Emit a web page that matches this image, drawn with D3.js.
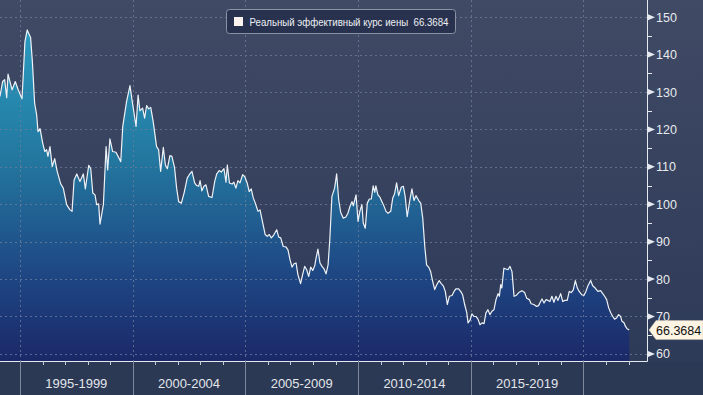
<!DOCTYPE html>
<html>
<head>
<meta charset="utf-8">
<script src="https://cdn.jsdelivr.net/npm/d3@7"></script>
<style>
  body { margin: 0; background: #2b3955; }
  svg { display: block; }
</style>
</head>
<body>
<svg id="chart" width="703" height="395"></svg>
<script>
const dates = [
  1994.11, 1994.23, 1994.32, 1994.41, 1994.47, 1994.65, 1994.79, 1994.92, 1995.09, 1995.22,
  1995.32, 1995.47, 1995.55, 1995.65, 1995.74, 1995.80, 1995.89, 1996.01, 1996.10, 1996.18,
  1996.24, 1996.33, 1996.43, 1996.54, 1996.65, 1996.81, 1996.92, 1997.07, 1997.22, 1997.31,
  1997.40, 1997.52, 1997.66, 1997.81, 1997.90, 1998.05, 1998.14, 1998.23, 1998.33, 1998.40,
  1998.49, 1998.55, 1998.70, 1998.82, 1998.89, 1998.99, 1999.11, 1999.26, 1999.47, 1999.56,
  1999.73, 1999.88, 1999.97, 2000.15, 2000.24, 2000.32, 2000.44, 2000.53, 2000.62, 2000.71,
  2000.80, 2000.91, 2001.06, 2001.15, 2001.24, 2001.36, 2001.45, 2001.54, 2001.65, 2001.74,
  2001.86, 2001.95, 2002.04, 2002.16, 2002.28, 2002.42, 2002.51, 2002.63, 2002.75, 2002.84,
  2002.93, 2002.99, 2003.07, 2003.16, 2003.25, 2003.37, 2003.52, 2003.64, 2003.73, 2003.84,
  2003.93, 2004.05, 2004.14, 2004.20, 2004.29, 2004.41, 2004.49, 2004.58, 2004.67, 2004.76,
  2004.88, 2004.97, 2005.08, 2005.17, 2005.26, 2005.35, 2005.44, 2005.56, 2005.65, 2005.77,
  2005.88, 2005.97, 2006.06, 2006.15, 2006.24, 2006.39, 2006.48, 2006.57, 2006.68, 2006.80,
  2006.89, 2006.98, 2007.07, 2007.16, 2007.25, 2007.33, 2007.45, 2007.54, 2007.63, 2007.72,
  2007.81, 2007.90, 2007.99, 2008.08, 2008.13, 2008.22, 2008.31, 2008.40, 2008.49, 2008.58,
  2008.67, 2008.75, 2008.84, 2008.96, 2009.05, 2009.14, 2009.23, 2009.34, 2009.46, 2009.55,
  2009.64, 2009.73, 2009.79, 2009.91, 2010.00, 2010.08, 2010.17, 2010.23, 2010.32, 2010.41,
  2010.50, 2010.59, 2010.67, 2010.74, 2010.79, 2010.88, 2010.97, 2011.06, 2011.15, 2011.24,
  2011.33, 2011.45, 2011.54, 2011.62, 2011.71, 2011.80, 2011.92, 2012.01, 2012.09, 2012.18,
  2012.30, 2012.39, 2012.48, 2012.57, 2012.69, 2012.78, 2012.87, 2012.96, 2013.04, 2013.13,
  2013.22, 2013.31, 2013.40, 2013.49, 2013.60, 2013.69, 2013.78, 2013.87, 2013.96, 2014.05,
  2014.17, 2014.26, 2014.34, 2014.46, 2014.55, 2014.64, 2014.73, 2014.82, 2014.88, 2014.97,
  2015.05, 2015.14, 2015.23, 2015.32, 2015.41, 2015.50, 2015.59, 2015.67, 2015.76, 2015.85,
  2015.94, 2016.03, 2016.12, 2016.21, 2016.27, 2016.33, 2016.38, 2016.47, 2016.56, 2016.65,
  2016.74, 2016.83, 2016.92, 2017.01, 2017.13, 2017.27, 2017.39, 2017.48, 2017.60, 2017.68,
  2017.80, 2017.92, 2018.01, 2018.10, 2018.16, 2018.25, 2018.34, 2018.43, 2018.51, 2018.60,
  2018.69, 2018.78, 2018.87, 2018.99, 2019.08, 2019.17, 2019.28, 2019.37, 2019.46, 2019.55,
  2019.64, 2019.73, 2019.81, 2019.93, 2020.02, 2020.11, 2020.20, 2020.32, 2020.41, 2020.52,
  2020.64, 2020.76, 2020.85, 2020.94, 2021.03, 2021.12, 2021.21, 2021.30, 2021.38, 2021.47,
  2021.56, 2021.65, 2021.71, 2021.80, 2021.86, 2021.94, 2022.03
];
const values = [
  128.8, 132.8, 133.3, 128.5, 134.8, 130.6, 132.8, 130.6, 128.2, 143.5,
  146.6, 144.6, 138.1, 127.0, 123.9, 119.4, 120.2, 116.3, 114.1, 114.6,
  112.8, 115.4, 110.1, 112.2, 108.8, 105.4, 104.3, 99.9, 98.5, 98.1,
  106.5, 108.1, 106.1, 108.1, 104.1, 110.4, 109.5, 103.0, 102.5, 99.9,
  100.1, 94.7, 99.9, 115.4, 109.2, 117.5, 114.1, 113.9, 111.4, 120.8,
  127.5, 131.7, 127.9, 120.8, 129.2, 125.0, 125.7, 123.0, 126.4, 125.5,
  125.9, 122.1, 115.4, 114.6, 108.8, 115.2, 110.5, 109.5, 113.0, 112.8,
  109.7, 104.3, 100.7, 100.3, 103.0, 107.0, 107.9, 108.8, 105.7, 105.0,
  104.8, 106.3, 103.6, 104.8, 105.2, 102.1, 101.8, 106.1, 108.1, 109.0,
  108.6, 109.5, 105.9, 110.5, 105.7, 105.4, 105.9, 104.3, 106.3, 105.7,
  107.9, 107.4, 105.7, 103.4, 104.1, 101.7, 100.3, 98.1, 98.5, 95.0,
  91.9, 91.4, 91.9, 91.0, 91.6, 93.2, 91.2, 91.0, 88.7, 88.6,
  87.8, 85.2, 83.2, 84.1, 84.3, 81.2, 78.8, 81.2, 83.4, 82.5,
  80.7, 83.2, 82.3, 83.6, 85.4, 88.0, 84.3, 83.4, 82.7, 81.4,
  83.8, 91.0, 102.1, 104.3, 108.1, 101.2, 97.8, 96.3, 96.6, 97.6,
  99.4, 100.7, 99.6, 102.5, 95.4, 98.1, 99.9, 95.0, 93.6, 100.3,
  101.4, 101.4, 104.9, 103.2, 104.9, 102.5, 101.9, 100.7, 99.5, 98.1,
  97.6, 98.1, 101.7, 102.8, 105.7, 102.3, 104.6, 104.8, 102.1, 96.7,
  101.2, 104.1, 101.0, 102.3, 101.0, 100.3, 96.3, 88.7, 83.8, 83.2,
  82.0, 79.4, 77.2, 78.5, 79.6, 78.8, 78.2, 76.7, 73.2, 75.4,
  75.6, 76.7, 77.4, 77.4, 76.7, 75.8, 73.2, 71.1, 68.3, 69.0,
  70.7, 70.0, 70.0, 69.3, 67.8, 68.3, 68.1, 70.9, 71.8, 70.5,
  71.4, 71.8, 74.5, 76.1, 75.4, 78.5, 77.6, 82.9, 82.7, 82.5,
  83.4, 82.0, 75.4, 75.6, 76.4, 76.9, 76.4, 74.9, 74.5, 73.4,
  73.2, 72.7, 72.9, 74.0, 74.7, 73.6, 74.5, 74.3, 74.0, 75.4,
  73.8, 75.4, 74.3, 76.1, 74.0, 74.3, 74.3, 76.7, 76.4, 77.1,
  79.6, 77.6, 76.7, 75.8, 75.6, 76.7, 78.2, 79.6, 78.2, 77.6,
  76.7, 76.9, 76.2, 75.4, 74.5, 72.3, 71.0, 70.0, 69.3, 69.6,
  70.5, 70.0, 68.7, 68.3, 67.4, 66.7, 66.3684
];
const yTicks = [60, 70, 80, 90, 100, 110, 120, 130, 140, 150];
const yMinorTicks = [65, 75, 85, 95, 105, 115, 125, 135, 145];
const periodStarts = [1995, 2000, 2005, 2010, 2015, 2020];
const periodLabels = ["1995-1999", "2000-2004", "2005-2009", "2010-2014", "2015-2019"];
const seriesName = "Реальный эффективный курс иены";

const data = dates.map((d, i) => ({ t: d, v: values[i] }));
const last = data[data.length - 1];

const svg = d3.select("#chart");
const width = 703, height = 395;
const plotW = 647, plotH = 361;
const font = "'Liberation Sans', Arial, sans-serif";

const x = d3.scaleLinear().domain([1994.113, 2022.82]).range([0, plotW]);
const y = d3.scaleLinear().domain([58.1, 154.6]).range([plotH, 0]);

// gradients
const defs = svg.append("defs");
const bg = defs.append("linearGradient").attr("id", "bg")
  .attr("x1", 0).attr("y1", 0).attr("x2", 0).attr("y2", 1);
bg.append("stop").attr("offset", "0%").attr("stop-color", "#404a65");
bg.append("stop").attr("offset", "100%").attr("stop-color", "#2d3a58");

const areaGrad = defs.append("linearGradient").attr("id", "areaGrad")
  .attr("gradientUnits", "userSpaceOnUse")
  .attr("x1", 0).attr("y1", 25).attr("x2", 0).attr("y2", plotH);
areaGrad.append("stop").attr("offset", "0%").attr("stop-color", "#2a9cc0");
areaGrad.append("stop").attr("offset", "40%").attr("stop-color", "#23779f");
areaGrad.append("stop").attr("offset", "75%").attr("stop-color", "#1e4683");
areaGrad.append("stop").attr("offset", "100%").attr("stop-color", "#1b2868");

// background
svg.append("rect").attr("width", width).attr("height", plotH).attr("fill", "url(#bg)");
svg.append("rect").attr("y", plotH).attr("width", width).attr("height", height - plotH).attr("fill", "#2b3955");

// area + gridlines + line
const area = d3.area().x(d => x(d.t)).y0(plotH).y1(d => y(d.v));
svg.append("path").datum(data).attr("d", area).attr("fill", "url(#areaGrad)");

const grid = svg.append("g")
  .attr("stroke", "#6f7f9c").attr("stroke-width", 1)
  .attr("stroke-dasharray", "2,3").attr("opacity", 0.75);
grid.selectAll(".hg").data(yTicks).enter().append("line")
  .attr("x1", 0).attr("x2", plotW)
  .attr("y1", d => Math.round(y(d)) + 0.5).attr("y2", d => Math.round(y(d)) + 0.5);
grid.selectAll(".vg").data(periodStarts).enter().append("line")
  .attr("x1", d => Math.round(x(d)) + 0.5).attr("x2", d => Math.round(x(d)) + 0.5)
  .attr("y1", 0).attr("y2", plotH);

const line = d3.line().x(d => x(d.t)).y(d => y(d.v));
svg.append("path").datum(data).attr("d", line)
  .attr("fill", "none").attr("stroke", "#eef2f7").attr("stroke-width", 1.2)
  .attr("stroke-linejoin", "round");

// frame: right axis and bottom axis lines
svg.append("line").attr("x1", plotW + 0.5).attr("x2", plotW + 0.5).attr("y1", 0).attr("y2", plotH + 0.5)
  .attr("stroke", "#e6e9ef").attr("stroke-width", 1);
svg.append("line").attr("x1", 0).attr("x2", plotW + 0.5).attr("y1", plotH + 0.5).attr("y2", plotH + 0.5)
  .attr("stroke", "#e6e9ef").attr("stroke-width", 1);

// right axis
const yAxis = svg.append("g");
yAxis.selectAll(".minor").data(yMinorTicks).enter().append("line")
  .attr("x1", plotW).attr("x2", plotW + 5)
  .attr("y1", d => Math.round(y(d)) + 0.5).attr("y2", d => Math.round(y(d)) + 0.5)
  .attr("stroke", "#e6e9ef");
yAxis.selectAll(".mark").data(yTicks).enter().append("path")
  .attr("d", d => {
    const yy = y(d);
    return `M${plotW + 1},${yy - 3} L${plotW + 8},${yy} L${plotW + 1},${yy + 3} Z`;
  })
  .attr("fill", "#e6e9ef");
yAxis.selectAll(".lbl").data(yTicks).enter().append("text")
  .attr("x", plotW + 9).attr("y", d => y(d))
  .attr("dy", "0.36em")
  .attr("font-family", font).attr("font-size", 12.5)
  .attr("fill", "#e8eaee")
  .text(d => d);

// bottom axis: year ticks, period separators, labels
const years = d3.range(1995, 2023);
svg.append("g").selectAll("line").data(years.filter(yr => !periodStarts.includes(yr))).enter().append("line")
  .attr("x1", d => Math.round(x(d)) + 0.5).attr("x2", d => Math.round(x(d)) + 0.5)
  .attr("y1", plotH).attr("y2", plotH + 4)
  .attr("stroke", "#c9cdd6");
svg.append("g").selectAll("line").data(periodStarts).enter().append("line")
  .attr("x1", d => Math.round(x(d)) + 0.5).attr("x2", d => Math.round(x(d)) + 0.5)
  .attr("y1", plotH).attr("y2", height)
  .attr("stroke", "#7f889b");
svg.append("g").selectAll("text").data(periodLabels).enter().append("text")
  .attr("x", (d, i) => x(periodStarts[i] + 2.5))
  .attr("y", 388)
  .attr("text-anchor", "middle")
  .attr("font-family", font).attr("font-size", 13)
  .attr("textLength", 62).attr("lengthAdjust", "spacingAndGlyphs")
  .attr("fill", "#e4e6ea")
  .text(d => d);

// last value tag
const ty = y(last.v);
svg.append("path")
  .attr("d", `M${plotW + 2},${ty} L${plotW + 9},${ty - 9.5} L${width},${ty - 9.5} L${width},${ty + 9.5} L${plotW + 9},${ty + 9.5} Z`)
  .attr("fill", "#fdf4e3").attr("stroke", "#c8c2b4").attr("stroke-width", 0.5);
svg.append("text")
  .attr("x", plotW + 9).attr("y", ty).attr("dy", "0.36em")
  .attr("font-family", font).attr("font-size", 12.5)
  .attr("fill", "#111")
  .text(last.v.toFixed(4));

// legend
const legend = svg.append("g").attr("transform", "translate(226.5,9.5)");
legend.append("rect").attr("width", 229).attr("height", 24).attr("rx", 3)
  .attr("fill", "#28324e").attr("stroke", "#8b92a3").attr("stroke-width", 1);
legend.append("rect").attr("x", 7.5).attr("y", 7.5).attr("width", 9).attr("height", 9)
  .attr("fill", "#fbf3ee");
legend.append("text").attr("x", 23).attr("y", 16)
  .attr("font-family", font).attr("font-size", 11)
  .attr("textLength", 199).attr("lengthAdjust", "spacingAndGlyphs")
  .attr("fill", "#eef0f4")
  .attr("xml:space", "preserve")
  .text(seriesName + "  " + last.v.toFixed(4));
</script>
</body>
</html>
